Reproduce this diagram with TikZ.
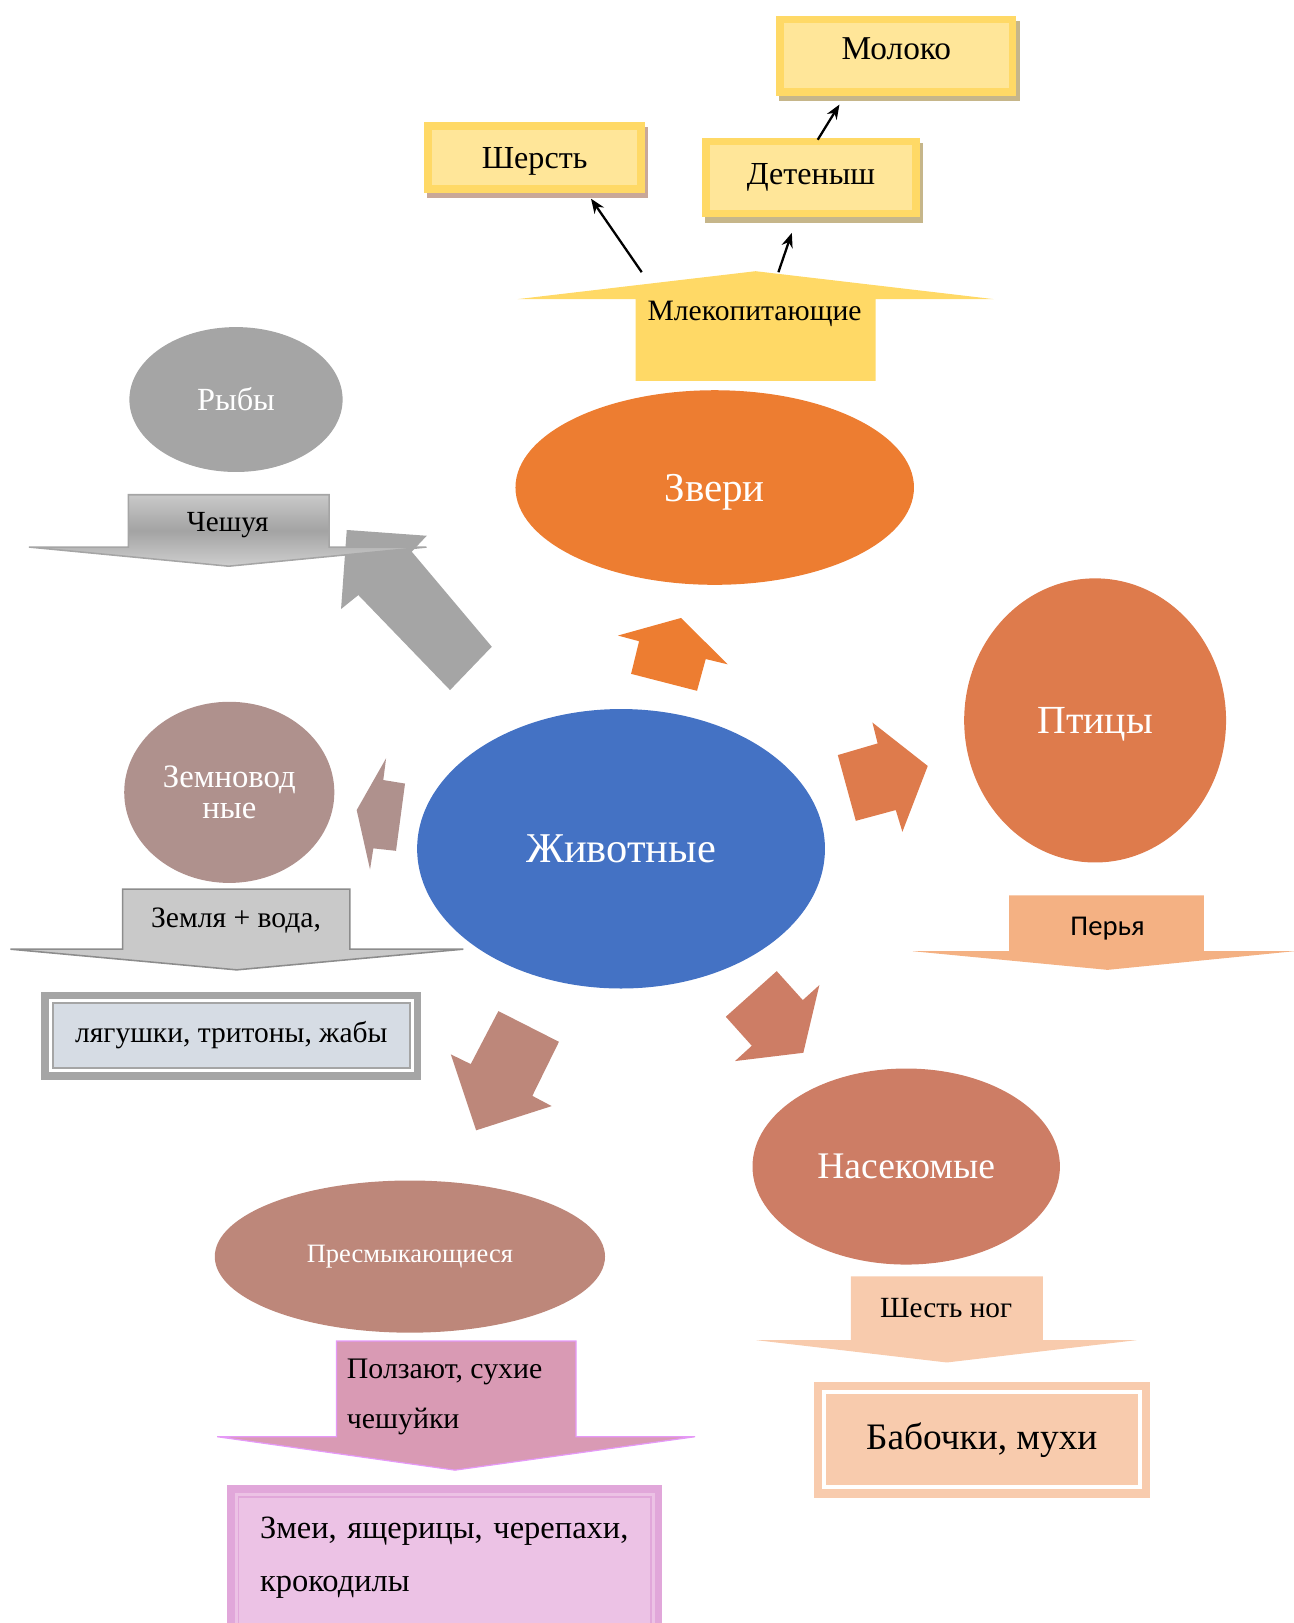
\documentclass[tikz,border=0pt]{standalone}
\usepackage{fontspec}
\setmainfont{Liberation Serif}
\newfontfamily\calib{Carlito}
\usetikzlibrary{shapes.geometric, arrows.meta, backgrounds}

\definecolor{zver}{HTML}{ED7D31}
\definecolor{anim}{HTML}{4472C4}
\definecolor{bird}{HTML}{DE7B4C}
\definecolor{fishc}{HTML}{A5A5A5}
\definecolor{amph}{HTML}{AF918D}
\definecolor{rept}{HTML}{BD877A}
\definecolor{insect}{HTML}{CD7D65}
\definecolor{yel}{HTML}{FFD966}
\definecolor{yellt}{HTML}{FFE699}
\definecolor{shadowy}{HTML}{C6B68A}
\definecolor{shadowp}{HTML}{C9A898}
\definecolor{peach}{HTML}{F4B183}
\definecolor{peachlt}{HTML}{F8CBAD}
\definecolor{pinkarr}{HTML}{D99AB4}
\definecolor{pinkbox}{HTML}{ECC2E5}
\definecolor{pinkbrd}{HTML}{E1A7DA}
\definecolor{violetl}{HTML}{E599F7}
\definecolor{frogfill}{HTML}{D6DCE4}
\definecolor{graylt}{HTML}{C9C9C9}
\definecolor{graymid}{HTML}{A3A3A3}
\definecolor{graydk}{HTML}{8C8C8C}

\begin{document}
\begin{tikzpicture}[x=1pt,y=-1pt,
  ell/.style={ellipse, inner sep=0pt, text=white, align=center},
  ybox/.style={rectangle, fill=yellt, draw=yel, line width=7.5pt, outer sep=3.75pt, inner sep=0pt, font=\fontsize{31}{36}\selectfont},
  lbl/.style={inner sep=0pt, text=black},
  thinarrow/.style={-{Stealth[length=14pt,width=11pt]}, line width=2.2pt, black}
]
\useasboundingbox (0,0) rectangle (1250,1568);
\clip (0,0) rectangle (1250,1568);

% ---------- top boxes ----------
\node[ybox, minimum width=224.5pt, minimum height=70.5pt, font=\fontsize{32.2}{36}\selectfont, text height=22pt, text depth=15pt] (moloko) at (866,54) {Молоко};
\node[ybox, minimum width=205.5pt, minimum height=60.5pt, text height=29pt, text depth=7pt] (sherst) at (516.5,152) {Шерсть};
\node[ybox, minimum width=203.5pt, minimum height=69.5pt] (deten) at (783.5,171.5) {Детеныш};
\begin{scope}[on background layer]
  \fill[shadowy] ([shift={(3,5)}]moloko.north west) rectangle ([shift={(3,5)}]moloko.south east);
  \fill[shadowp] ([shift={(3,5)}]sherst.north west) rectangle ([shift={(3,5)}]sherst.south east);
  \fill[shadowy] ([shift={(3,5)}]deten.north west) rectangle ([shift={(3,5)}]deten.south east);
\end{scope}

% ---------- Mlekopitayushchie up arrow ----------
\fill[yel] (614,368) -- (614,289) -- (500,289) -- (730,262) -- (960,289) -- (846,289) -- (846,368) -- cycle;
\node[lbl, font=\fontsize{28.6}{32}\selectfont] (mlek) at (729,303) {Млекопитающие};

\coordinate (t1s) at (620,263); \coordinate (t1e) at (571,192);
\coordinate (t2s) at (752,263); \coordinate (t2e) at (765,225);
\coordinate (t3s) at (790,135); \coordinate (t3e) at (811,101);
\draw[thinarrow] (t1s) -- (t1e);
\draw[thinarrow] (t2s) -- (t2e);
\draw[thinarrow] (t3s) -- (t3e);

% ---------- ellipses ----------
\node[ell, fill=zver, minimum width=385pt, minimum height=188pt, font=\fontsize{39.6}{44}\selectfont, text height=35pt, text depth=8.7pt] (zveri) at (690.5,471) {Звери};
\node[ell, fill=anim, minimum width=394pt, minimum height=270pt, font=\fontsize{41}{46}\selectfont] (anim) at (600,820) {Животные};
\node[ell, fill=bird, minimum width=253pt, minimum height=274.5pt, font=\fontsize{38.5}{44}\selectfont, text height=33.5pt, text depth=8pt] (birds) at (1058,696) {Птицы};
\node[ell, fill=fishc, minimum width=206pt, minimum height=140pt, font=\fontsize{31.2}{34}\selectfont] (fish) at (228,386) {Рыбы};
\node[ell, fill=amph, minimum width=203pt, minimum height=175pt, font=\fontsize{31.6}{30}\selectfont] (amph) at (221.5,765.5) {Земновод\\ные};
\node[ell, fill=rept, minimum width=377pt, minimum height=147pt, font=\fontsize{25.6}{30}\selectfont] (rept) at (396,1214) {Пресмыкающиеся};
\node[ell, fill=insect, minimum width=297pt, minimum height=189.4pt, font=\fontsize{36.3}{40}\selectfont] (insect) at (875.5,1127) {Насекомые};

% ---------- block arrows from centre ----------
\fill[fishc] (335,512) -- (412.3,517.6) -- (397.8,533) -- (475.1,624.8) -- (434.8,666.7) -- (346.2,574.9) -- (329.5,588.4) -- cycle;
\fill[zver] (658,597) -- (703,641.8) -- (681.8,636.7) -- (673.4,667.4) -- (609.7,651) -- (617.4,619.5) -- (597,614) -- cycle;
\fill[bird] (809.4,729.5) -- (847.9,718.2) -- (842.8,698) -- (896.3,740) -- (871.8,803.6) -- (865.4,782.6) -- (826.8,793) -- cycle;
\fill[amph] (344.6,782.6) -- (373,732.6) -- (370.3,753.6) -- (391.3,757) -- (382.6,822) -- (360.7,819.6) -- (357.5,840) -- cycle;
\fill[insect] (750.4,938.2) -- (775.6,966.2) -- (791.6,951.7) -- (776.1,1017.1) -- (710.1,1025.1) -- (726.3,1010.3) -- (701.2,982.3) -- cycle;
\fill[rept] (481.5,976.8) -- (540,1006.5) -- (514.3,1058.7) -- (533,1068.6) -- (460,1092) -- (435.5,1018.6) -- (454.8,1028) -- cycle;

% ---------- labelled down arrows ----------
\shadedraw[draw=fishc, line width=1.5pt, top color=graylt, bottom color=graylt!90!white, middle color=graymid]
  (124,478) -- (318,478) -- (318,528.5) -- (412,528.5) -- (221,547) -- (28,528.5) -- (124,528.5) -- cycle;
\node[lbl, font=\fontsize{28.2}{32}\selectfont] (chesh) at (220,507) {Чешуя};

\filldraw[fill=graylt, draw=graydk, line width=1.5pt]
  (118.5,859) -- (338,859) -- (338,917) -- (447.6,917) -- (228.7,937) -- (10,917) -- (118.5,917) -- cycle;
\node[lbl, font=\fontsize{28.6}{32}\selectfont] (zemlya) at (228,889) {Земля + вода,};

\fill[peach] (975,865) -- (1163,865) -- (1163,919) -- (1250,919) -- (1070,937) -- (882,919) -- (975,919) -- cycle;
\node[lbl, font=\calib\fontsize{27.7}{32}\selectfont] (perya) at (1070,897) {Перья};

\fill[peachlt] (822,1233) -- (1007.4,1233) -- (1007.4,1294.7) -- (1098.2,1294.7) -- (914.7,1316.3) -- (730.4,1294.7) -- (822,1294.7) -- cycle;
\node[lbl, font=\fontsize{28.3}{32}\selectfont] (shest) at (914,1264) {Шесть ног};

\filldraw[fill=pinkarr, draw=violetl, line width=1.2pt]
  (325,1295.6) -- (556.5,1295.6) -- (556.5,1388) -- (671.5,1388) -- (439.6,1420.3) -- (209.8,1388) -- (325,1388) -- cycle;
\node[lbl, anchor=north west, align=left, font=\fontsize{28.8}{48.3}\selectfont] (polz) at (335,1313) {Ползают, сухие\\чешуйки};

% ---------- result boxes ----------
\node[rectangle, fill=frogfill, draw=fishc, line width=1.5pt, outer sep=0pt, minimum width=345pt, minimum height=63pt, font=\fontsize{28.5}{32}\selectfont] (frog) at (223.5,1000.5) {лягушки, тритоны, жабы};
\draw[fishc, line width=7.5pt] ([shift={(-7.25,-7.25)}]frog.north west) rectangle ([shift={(7.25,7.25)}]frog.south east);

\node[rectangle, fill=peachlt, outer sep=0pt, minimum width=301pt, minimum height=88pt, font=\fontsize{36.1}{40}\selectfont] (bab) at (948.5,1391) {Бабочки, мухи};
\draw[peachlt, line width=8pt] ([shift={(-8,-8)}]bab.north west) rectangle ([shift={(8,8)}]bab.south east);

\node[rectangle, fill=pinkbox, draw=pinkbrd, line width=1.5pt, outer sep=0pt, minimum width=398.4pt, minimum height=134pt] (zmei) at (429.8,1513) {};
\begin{scope}[on background layer]
  \filldraw[fill=pinkbox, draw=pinkbrd, line width=7.5pt] ([shift={(-7.25,-7.25)}]zmei.north west) rectangle ([shift={(7.25,7.25)}]zmei.south east);
\end{scope}
\node[lbl, anchor=north west, align=left, font=\fontsize{31.4}{52}\selectfont] (zmeitxt) at (251,1465) {\makebox[356pt][s]{Змеи, ящерицы, черепахи,}\\крокодилы};
\end{tikzpicture}
\end{document}
